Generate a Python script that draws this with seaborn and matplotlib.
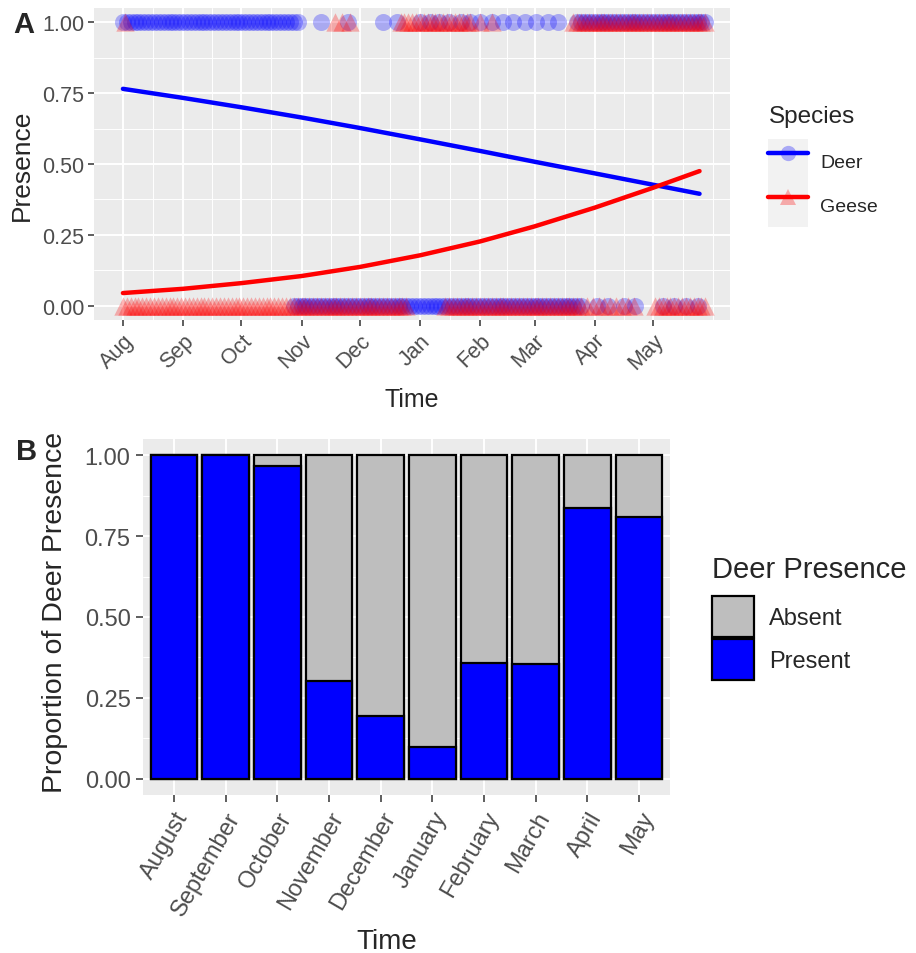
import matplotlib
matplotlib.use("Agg")
import matplotlib.pyplot as plt
import seaborn as sns
import pandas as pd
from matplotlib.patches import Rectangle
from matplotlib.lines import Line2D
from matplotlib.legend_handler import HandlerTuple

# ---------------- data: panel A ----------------
month_labels_a = ["Aug", "Sep", "Oct", "Nov", "Dec", "Jan", "Feb", "Mar", "Apr", "May"]
month_start_days = [0, 31, 61, 92, 122, 153, 184, 212, 243, 273]
minor_days = [15.5, 46, 76.5, 107, 137.5, 168.5, 198, 227.5, 258, 288.5, 304]

deer_present_days = [0, 2, 4, 6, 8, 10, 12, 14, 16, 18, 20, 22, 24, 26, 28, 30, 32, 34, 36, 38,
                     40, 42, 44, 46, 48, 50, 52, 54, 56, 58, 60, 62, 64, 66, 68, 70, 72, 74, 76, 78,
                     80, 82, 84, 86, 88, 90, 102, 116, 134, 141, 153, 158, 163, 168, 174, 179, 184,
                     190, 196, 201, 207, 213, 219, 224, 234, 236, 238, 240, 242, 244, 246, 248, 250,
                     252, 254, 256, 258, 260, 262, 264, 266, 268, 270, 272, 274, 276, 278, 280, 282,
                     284, 286, 288, 290, 292, 294, 296, 298, 300]
geese_present_days = [1, 109, 113, 117, 143, 145, 147, 149, 151, 153, 155, 157, 159, 161, 163, 165,
                      167, 169, 171, 173, 175, 177, 179, 184, 190, 232, 234, 236, 238, 240, 242, 244,
                      246, 248, 250, 252, 254, 256, 258, 260, 262, 264, 266, 268, 270, 272, 274, 276,
                      278, 280, 282, 284, 286, 288, 290, 292, 294, 296, 298, 300]
deer_absent_days = [88, 90, 92, 94, 96, 98, 100, 102, 104, 106, 108, 110, 112, 114, 116, 118, 120,
                    122, 124, 126, 128, 130, 132, 134, 136, 138, 140, 142, 144, 146, 148, 150, 152,
                    154, 156, 158, 160, 162, 164, 166, 168, 170, 172, 174, 176, 178, 180, 182, 184,
                    186, 188, 190, 192, 194, 196, 198, 200, 202, 204, 206, 208, 210, 212, 214, 216,
                    218, 220, 222, 224, 226, 228, 230, 232, 234, 236, 244, 250, 258, 264, 278, 284,
                    290, 296]
geese_absent_days = [0, 2, 4, 6, 8, 10, 12, 14, 16, 18, 20, 22, 24, 26, 28, 30, 32, 34, 36, 38, 40,
                     42, 44, 46, 48, 50, 52, 54, 56, 58, 60, 62, 64, 66, 68, 70, 72, 74, 76, 78, 80,
                     82, 84, 86, 88, 90, 92, 94, 96, 98, 100, 102, 104, 106, 108, 110, 112, 114, 116,
                     118, 120, 122, 124, 126, 128, 130, 132, 134, 136, 138, 140, 142, 144, 146, 166,
                     168, 170, 172, 174, 176, 178, 180, 182, 184, 186, 188, 190, 192, 194, 196, 198,
                     200, 202, 204, 206, 208, 210, 212, 214, 216, 218, 220, 222, 224, 226, 228, 230,
                     232, 234, 236, 239, 242, 245, 248, 251, 254, 257, 260, 263, 274, 276, 278, 280,
                     282, 284, 286, 288, 290, 292, 294, 296, 298, 300]

fit_days = [0, 31, 61, 92, 122, 153, 184, 212, 243, 273, 297]
deer_fit = [0.765, 0.733, 0.700, 0.664, 0.627, 0.587, 0.546, 0.508, 0.467, 0.427, 0.395]
geese_fit = [0.045, 0.060, 0.080, 0.105, 0.137, 0.178, 0.227, 0.280, 0.346, 0.416, 0.475]

# ---------------- data: panel B ----------------
months_b = ["August", "September", "October", "November", "December",
            "January", "February", "March", "April", "May"]
present_b = [1.0, 1.0, 0.966, 0.302, 0.195, 0.099, 0.358, 0.355, 0.836, 0.809]
absent_b = [1 - p for p in present_b]

# ---------------- style ----------------
sns.set_theme(style="darkgrid")
plt.rcParams["font.family"] = ["Liberation Sans", "DejaVu Sans"]
BG = "#EBEBEB"
TICKC = "#4D4D4D"
BLUE = "#0000FF"
RED = "#FF0000"
palette = {"Deer": BLUE, "Geese": RED}

W, H = 916, 954
fig = plt.figure(figsize=(W / 100, H / 100), dpi=100)
fig.patch.set_facecolor("white")


def fx(px):
    return px / W


def fy(py):
    return 1 - py / H


# ---------------- panel A ----------------
axA = fig.add_axes([fx(94), fy(321), fx(730) - fx(94), fy(9) - fy(321)])
deer_pts = pd.concat([
    pd.DataFrame({"day": deer_present_days, "presence": 1.0}),
    pd.DataFrame({"day": deer_absent_days, "presence": 0.0}),
], ignore_index=True)
geese_pts = pd.concat([
    pd.DataFrame({"day": geese_present_days, "presence": 1.0}),
    pd.DataFrame({"day": geese_absent_days, "presence": 0.0}),
], ignore_index=True)
fits = pd.concat([
    pd.DataFrame({"day": fit_days, "fit": deer_fit, "species": "Deer"}),
    pd.DataFrame({"day": fit_days, "fit": geese_fit, "species": "Geese"}),
], ignore_index=True)

sns.scatterplot(data=deer_pts, x="day", y="presence", marker="o", color=BLUE,
                alpha=0.28, s=150, linewidth=0, legend=False, ax=axA, zorder=3)
sns.scatterplot(data=geese_pts, x="day", y="presence", marker="^", color=RED,
                alpha=0.28, s=175, linewidth=0, legend=False, ax=axA, zorder=3)
sns.lineplot(data=fits, x="day", y="fit", hue="species", palette=palette,
             linewidth=3.2, legend=False, ax=axA, zorder=4)

axA.set_facecolor(BG)
axA.set_xlim(-14.9, 312.7)
axA.set_ylim(-0.05, 1.05)
axA.set_xticks(month_start_days)
axA.set_xticklabels(month_labels_a, rotation=45, ha="right", va="top",
                    rotation_mode="anchor")
axA.set_xticks(minor_days, minor=True)
axA.set_yticks([0, 0.25, 0.5, 0.75, 1.0])
axA.set_yticklabels(["0.00", "0.25", "0.50", "0.75", "1.00"])
axA.set_yticks([0.125, 0.375, 0.625, 0.875], minor=True)
axA.set_xlabel("")
axA.set_ylabel("")
axA.tick_params(axis="both", which="major", length=4, width=1.1, color="#333333",
                labelcolor=TICKC, labelsize=15.5, pad=3, bottom=True, left=True)
axA.tick_params(axis="both", which="minor", length=0)
axA.grid(which="major", color="white", linewidth=1.4)
axA.grid(which="minor", color="white", linewidth=0.7)
for sp in axA.spines.values():
    sp.set_visible(False)

fig.text(fx(24), fy(25), "A", fontsize=21, fontweight="bold", ha="center", va="center")
fig.text(fx(22), fy(165), "Presence", fontsize=19, rotation=90, ha="center", va="center")
fig.text(fx(412), fy(407), "Time", fontsize=18, ha="center", va="baseline")

# legend A (title as separate text)
fig.text(fx(769), fy(123), "Species", fontsize=17.5, ha="left", va="baseline")
keybg = dict(facecolor="#F2F2F2", edgecolor="none")
hd = (Rectangle((0, 0), 1, 1, **keybg),
      Line2D([], [], marker="o", linestyle="none", color=BLUE, alpha=0.3,
             markersize=11, markeredgewidth=0),
      Line2D([], [], color=BLUE, linewidth=3.2))
hg = (Rectangle((0, 0), 1, 1, **keybg),
      Line2D([], [], marker="^", linestyle="none", color=RED, alpha=0.3,
             markersize=12, markeredgewidth=0),
      Line2D([], [], color=RED, linewidth=3.2))
legA = fig.legend([hd, hg], ["Deer", "Geese"],
                  handler_map={tuple: HandlerTuple(ndivide=1, pad=0)},
                  loc="upper left", bbox_to_anchor=(fx(768), fy(140)),
                  frameon=False, fontsize=14,
                  handlelength=2.06, handleheight=3.1, labelspacing=0,
                  handletextpad=0.62, borderpad=0, borderaxespad=0)

# ---------------- panel B ----------------
axB = fig.add_axes([fx(143), fy(796), fx(670) - fx(143), fy(440) - fy(796)])
dfB = pd.DataFrame({"month": months_b, "present": present_b, "absent": absent_b})
dfB["total"] = dfB["present"] + dfB["absent"]

sns.barplot(data=dfB, x="month", y="total", order=months_b, color="#BEBEBE",
            saturation=1, edgecolor="black", linewidth=1.6, width=0.9,
            errorbar=None, ax=axB, zorder=3)
sns.barplot(data=dfB, x="month", y="present", order=months_b, color=BLUE,
            saturation=1, edgecolor="black", linewidth=1.6, width=0.9,
            errorbar=None, ax=axB, zorder=4)

axB.set_facecolor(BG)
axB.set_xlim(-0.6, 9.6)
axB.set_ylim(-0.05, 1.05)
axB.set_xticks(range(len(months_b)))
axB.set_xticklabels(months_b, rotation=60, ha="right", va="top",
                    rotation_mode="anchor")
axB.set_yticks([0, 0.25, 0.5, 0.75, 1.0])
axB.set_yticklabels(["0.00", "0.25", "0.50", "0.75", "1.00"])
axB.set_yticks([0.125, 0.375, 0.625, 0.875], minor=True)
axB.set_xlabel("")
axB.set_ylabel("")
axB.tick_params(axis="both", which="major", length=5, width=1.1, color="#333333",
                labelcolor=TICKC, labelsize=17, pad=4, bottom=True, left=True)
axB.tick_params(axis="both", which="minor", length=0)
axB.grid(which="major", color="white", linewidth=1.4)
axB.grid(which="minor", axis="y", color="white", linewidth=0.7)
axB.grid(which="minor", axis="x", visible=False)
for sp in axB.spines.values():
    sp.set_visible(False)

fig.text(fx(27), fy(452), "B", fontsize=21, fontweight="bold", ha="center", va="center")
fig.text(fx(55), fy(612), "Proportion of Deer Presence", fontsize=20.5, rotation=90,
         ha="center", va="center")
fig.text(fx(387), fy(949), "Time", fontsize=20, ha="center", va="baseline")

# legend B (title as separate text)
fig.text(fx(712), fy(578), "Deer Presence", fontsize=21, ha="left", va="baseline")
hA = Rectangle((0, 0), 1, 1, facecolor="#BEBEBE", edgecolor="black", linewidth=1.6)
hP = Rectangle((0, 0), 1, 1, facecolor=BLUE, edgecolor="black", linewidth=1.6)
legB = fig.legend([hA, hP], ["Absent", "Present"],
                  loc="upper left", bbox_to_anchor=(fx(712), fy(597)),
                  frameon=False, fontsize=17,
                  handlelength=1.78, handleheight=2.29, labelspacing=0.08,
                  handletextpad=0.65, borderpad=0, borderaxespad=0)

fig.savefig("out.png", dpi=100, facecolor="white")
